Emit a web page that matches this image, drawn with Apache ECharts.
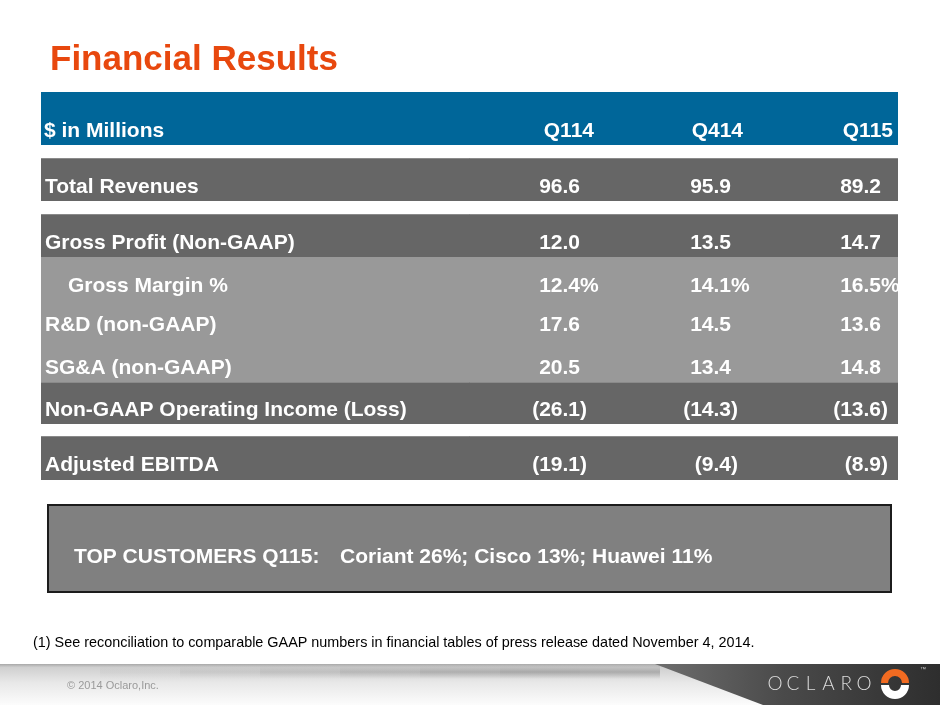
<!DOCTYPE html>
<html>
<head>
<meta charset="utf-8">
<script src="https://cdn.jsdelivr.net/npm/echarts@6/dist/echarts.min.js"></script>
<style>
  html, body { margin: 0; padding: 0; background: #ffffff; }
  #main { width: 940px; height: 705px; }
</style>
</head>
<body>
<div id="main"></div>
<script>
// table content
var title = 'Financial Results';
var unitLabel = '$ in Millions';
var columns = ['Q114', 'Q414', 'Q115'];
var rowLabels = [
  'Total Revenues',
  'Gross Profit (Non-GAAP)',
  'Gross Margin %',
  'R&D (non-GAAP)',
  'SG&A (non-GAAP)',
  'Non-GAAP Operating Income (Loss)',
  'Adjusted EBITDA'
];
var q114 = [96.6, 12.0, 12.4, 17.6, 20.5, -26.1, -19.1];
var q414 = [95.9, 13.5, 14.1, 14.5, 13.4, -14.3, -9.4];
var q115 = [89.2, 14.7, 16.5, 13.6, 14.8, -13.6, -8.9];
var percentRows = [2];
var customerLabel = 'TOP CUSTOMERS Q115:';
var customerNames = ['Coriant', 'Cisco', 'Huawei'];
var customerShares = [26, 13, 11];
var footnote = '(1) See reconciliation to comparable GAAP numbers in financial tables of press release dated November 4, 2014.';
var copyright = '\u00a9 2014 Oclaro,Inc.';
var brand = 'OCLARO';

// layout (pixels)
var FONT = "'Liberation Sans', Arial, sans-serif";
var DARK = '#666666', LIGHT = '#999999', BLUE = '#006699';
var tableX = 41, tableW = 857;
var rowLayout = [
  { top: 158, h: 43, fill: DARK, ty: 187, indent: 0 },
  { top: 214, h: 43, fill: DARK, ty: 243, indent: 0 },
  { top: 257, h: 42, fill: LIGHT, ty: 286, indent: 23 },
  { top: 299, h: 42, fill: LIGHT, ty: 325, indent: 0 },
  { top: 341, h: 41, fill: LIGHT, ty: 368, indent: 0 },
  { top: 382, h: 42, fill: DARK, ty: 410, indent: 0 },
  { top: 436, h: 44, fill: DARK, ty: 465, indent: 0 }
];
var valueAnchors = [580, 731, 881];
var headerAnchors = [594, 743, 893];

function cellText(x, y, text, align, extra) {
  var s = {
    text: text, x: x, y: y,
    fill: '#ffffff',
    font: 'bold 21px ' + FONT,
    textAlign: align || 'left',
    textVerticalAlign: 'middle'
  };
  return { type: 'text', z: 10, style: Object.assign(s, extra || {}) };
}

var els = [];

// title
els.push({
  type: 'text', z: 10,
  style: { text: title, x: 50, y: 60, fill: '#E8480E', font: 'bold 35px ' + FONT, textVerticalAlign: 'middle' }
});

// header band
els.push({ type: 'rect', shape: { x: tableX, y: 92, width: tableW, height: 53 }, style: { fill: BLUE } });
els.push(cellText(44, 131, unitLabel));
columns.forEach(function (c, i) {
  els.push(cellText(headerAnchors[i], 131, c, 'right'));
});

// body rows
var series = [q114, q414, q115];
rowLabels.forEach(function (label, r) {
  var L = rowLayout[r];
  els.push({ type: 'rect', shape: { x: tableX, y: L.top, width: tableW, height: L.h }, style: { fill: L.fill } });
  if (L.fill === DARK) {
    els.push({ type: 'line', z: 5, shape: { x1: tableX, y1: L.top + 0.5, x2: tableX + tableW, y2: L.top + 0.5 }, style: { stroke: '#8a8a8a', lineWidth: 1 } });
  }
  els.push(cellText(45 + L.indent, L.ty, label));
  series.forEach(function (vals, c) {
    var v = vals[r];
    var body = Math.abs(v).toFixed(1);
    var suffix = '';
    if (v < 0) { body = '(' + body; suffix = ')'; }
    if (percentRows.indexOf(r) >= 0) suffix = '%';
    els.push(cellText(valueAnchors[c], L.ty, body, 'right'));
    if (suffix) els.push(cellText(valueAnchors[c], L.ty, suffix, 'left'));
  });
});

// customers box
els.push({ type: 'rect', shape: { x: 48, y: 505, width: 843, height: 87 }, style: { fill: '#808080', stroke: '#1c1c1c', lineWidth: 2 } });
els.push(cellText(74, 557, customerLabel));
els.push(cellText(340, 557, customerNames.map(function (n, i) { return n + ' ' + customerShares[i] + '%'; }).join('; ')));

// footnote
els.push({
  type: 'text', z: 10,
  style: { text: footnote, x: 33, y: 643, fill: '#000000', font: '14.4px ' + FONT, textVerticalAlign: 'middle' }
});

// footer
els.push({
  type: 'rect', shape: { x: 0, y: 664, width: 940, height: 41 },
  style: { fill: new echarts.graphic.LinearGradient(0, 0, 0, 1, [
    { offset: 0, color: '#a8a8a8' }, { offset: 0.08, color: '#cfcfcf' }, { offset: 0.45, color: '#e8e8e8' }, { offset: 1, color: '#fcfcfc' }
  ]) }
});
// soft shadow streak under the footer edge, fading to the left
var streakAlpha = [0.04, 0.1, 0.16, 0.22, 0.28, 0.32, 0.3];
streakAlpha.forEach(function (a, i) {
  els.push({
    type: 'rect', z: 2, shape: { x: 100 + i * 80, y: 665, width: 80, height: 14 },
    style: { fill: new echarts.graphic.LinearGradient(0, 0, 0, 1, [
      { offset: 0, color: 'rgba(70,70,70,0)' }, { offset: 0.5, color: 'rgba(70,70,70,' + a + ')' }, { offset: 1, color: 'rgba(70,70,70,0)' }
    ]) }
  });
});
els.push({
  type: 'polygon', z: 3, shape: { points: [[655, 664], [940, 664], [940, 705], [763, 705]] },
  style: { fill: new echarts.graphic.LinearGradient(0, 0, 1, 0, [
    { offset: 0, color: '#6e6e6e' }, { offset: 0.45, color: '#4a4a4a' }, { offset: 1, color: '#2e2e2e' }
  ]) }
});
els.push({
  type: 'text', z: 10,
  style: { text: copyright, x: 67, y: 686, fill: '#9a9a9a', font: '11px ' + FONT, textVerticalAlign: 'middle' }
});
brand.split('').forEach(function (ch, i) {
  els.push({
    type: 'text', z: 10,
    style: { text: ch, x: 775 + i * 17.8, y: 684, fill: '#dcdcdc', font: '300 19px Lato, ' + FONT, textAlign: 'center', textVerticalAlign: 'middle' }
  });
});
els.push({ type: 'sector', z: 10, shape: { cx: 895, cy: 683, r: 14, r0: 7, startAngle: Math.PI, endAngle: 2 * Math.PI, clockwise: true }, style: { fill: '#F26B21' } });
els.push({ type: 'sector', z: 10, shape: { cx: 895, cy: 685, r: 14, r0: 6, startAngle: 0, endAngle: Math.PI, clockwise: true }, style: { fill: '#ffffff' } });
els.push({ type: 'text', z: 10, style: { text: '\u2122', x: 920, y: 669, fill: '#cccccc', font: '6px ' + FONT, textVerticalAlign: 'middle' } });

var chart = echarts.init(document.getElementById('main'), null, { renderer: 'canvas' });
chart.setOption({
  backgroundColor: '#ffffff',
  animation: false,
  graphic: { elements: els }
});
</script>
</body>
</html>
